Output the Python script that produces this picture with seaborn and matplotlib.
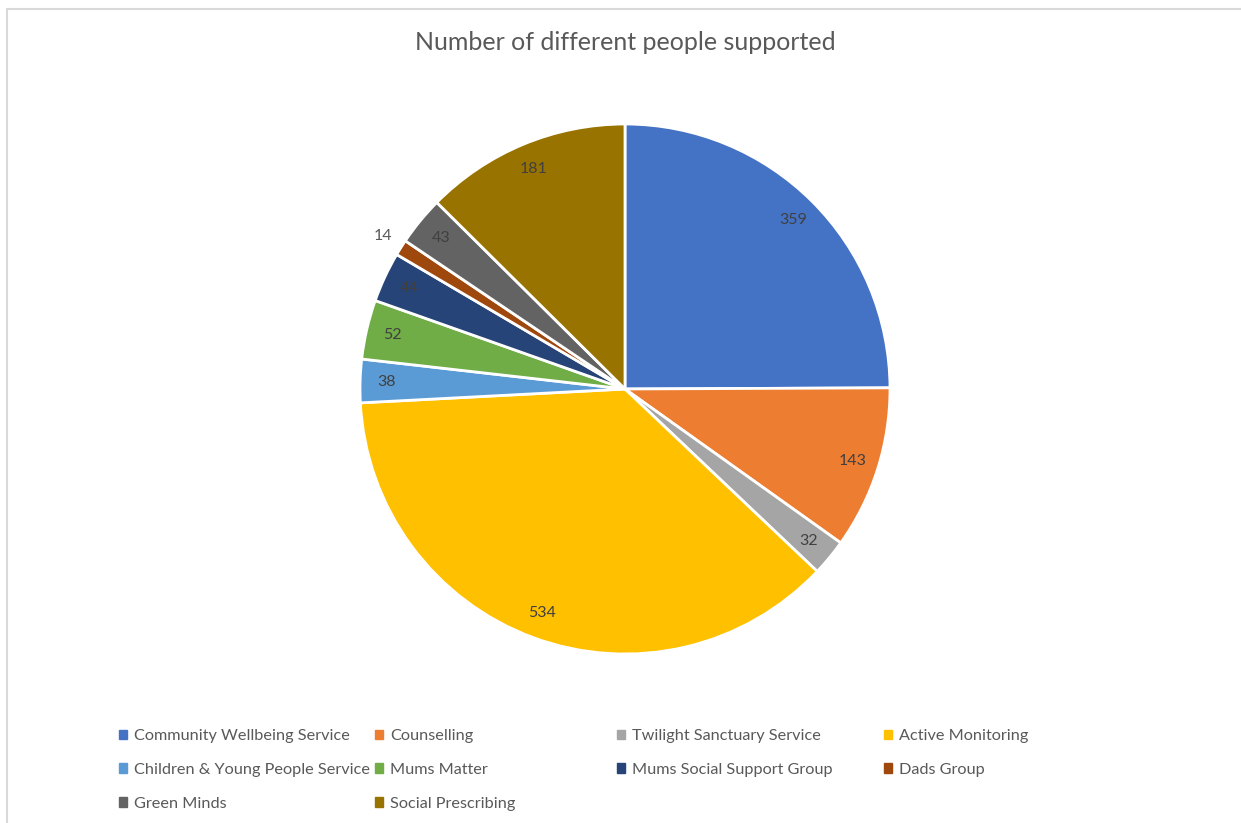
import matplotlib
matplotlib.use("Agg")
import matplotlib.pyplot as plt
import matplotlib.patches as mpatches
import seaborn as sns

sns.set_style("white")
plt.rcParams["font.family"] = ["Lato", "DejaVu Sans"]

# data
services = ["Community Wellbeing Service", "Counselling", "Twilight Sanctuary Service",
            "Active Monitoring", "Children & Young People Service", "Mums Matter",
            "Mums Social Support Group", "Dads Group", "Green Minds", "Social Prescribing"]
people = [359, 143, 32, 534, 38, 52, 44, 14, 43, 181]
colors = ["#4472C4", "#ED7D31", "#A5A5A5", "#FFC000", "#5B9BD5",
          "#70AD47", "#264478", "#9E480E", "#636363", "#997300"]

text_col = "#595959"

fig = plt.figure(figsize=(12.41, 8.23), dpi=100)

# chart area border (top and left edges visible)
fig.patches.append(mpatches.Rectangle((7 / 1241, -0.05), 1.1, 1 - 9.5 / 823 + 0.05,
                                      transform=fig.transFigure, fill=False,
                                      edgecolor="#D9D9D9", linewidth=1.5))

ax = fig.add_axes([(625 - 265) / 1241, 1 - (389 + 265) / 823, 530 / 1241, 530 / 823])
wedges, texts = ax.pie(people, colors=colors, startangle=90, counterclock=False,
                       labels=[str(v) for v in people], labeldistance=0.9,
                       wedgeprops=dict(edgecolor="white", linewidth=2),
                       textprops=dict(color="#404040", fontsize=11.5))
for t in texts:
    t.set_ha("center")
    t.set_va("center")
# small slice label sits outside
texts[7].set_position((texts[7].get_position()[0] * 1.2, texts[7].get_position()[1] * 1.2))
texts[7].set_color(text_col)
ax.set_xlim(-1, 1)
ax.set_ylim(-1, 1)
ax.set_aspect("equal")

fig.text(625 / 1241, 1 - 43 / 823, "Number of different people supported",
         ha="center", va="center", fontsize=18, color=text_col)

# legend, laid out in Excel-style rows
handles = [mpatches.Patch(color=c, label=s) for c, s in zip(colors, services)]
col_x = [119, 375, 617, 884]
groups = [[0, 4, 8], [1, 5, 9], [2, 6], [3, 7]]
for x, g in zip(col_x, groups):
    fig.legend(handles=[handles[i] for i in g], loc="upper left",
               bbox_to_anchor=(x / 1241, 1 - 729 / 823), frameon=False,
               fontsize=11.7, labelcolor=text_col, handlelength=0.5, handleheight=0.5,
               handletextpad=0.45, labelspacing=1.22, borderpad=0, borderaxespad=0)

fig.savefig("out.png", dpi=100, facecolor="white")
